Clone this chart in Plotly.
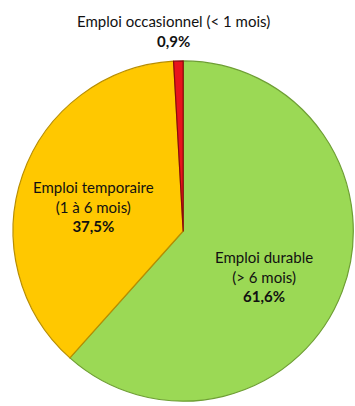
import plotly.graph_objects as go

categories = ["Emploi durable<br>(> 6 mois)", "Emploi temporaire<br>(1 à 6 mois)", "Emploi occasionnel (< 1 mois)"]
values = [61.6, 37.5, 0.9]
value_labels = ["61,6%", "37,5%", "0,9%"]
colors = ["#9BD955", "#FFC800", "#E8141C"]
edge_colors = ["#6E9E34", "#B88E00", "#8A0A0A"]

fig = go.Figure(go.Pie(
    labels=categories,
    values=values,
    sort=False,
    direction="clockwise",
    rotation=0,
    textinfo="none",
    hoverinfo="label+percent",
    marker=dict(colors=colors, line=dict(color=edge_colors, width=1.2)),
    domain=dict(x=[0.034, 0.998], y=[0.012, 0.850]),
    showlegend=False,
))

font = dict(family="Lato, Open Sans, sans-serif", size=15, color="#111111")
ann_pos = [(264, 276), (93, 206), (173, 31)]
annotations = []
for (px, py), cat, lab in zip(ann_pos, categories, value_labels):
    txt = cat + "<br><b>" + lab + "</b>"
    annotations.append(dict(
        x=px / 355, y=1 - py / 406, xref="paper", yref="paper",
        text=txt, showarrow=False, font=font, align="center",
        xanchor="center", yanchor="middle",
    ))

fig.update_layout(
    width=355, height=406,
    margin=dict(l=0, r=0, t=0, b=0),
    paper_bgcolor="white", plot_bgcolor="white",
    annotations=annotations,
)

fig.write_html(
    "out.html",
    config={"displayModeBar": False},
    post_script="document.body.style.margin='0';document.body.style.overflow='hidden';",
)
